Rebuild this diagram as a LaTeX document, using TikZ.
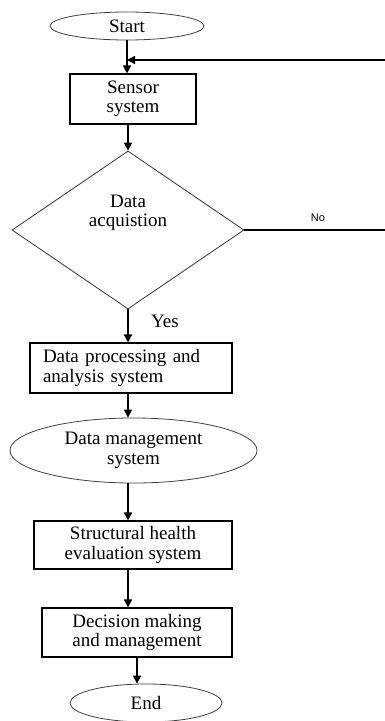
\documentclass[tikz,border=0pt]{standalone}
\usepackage{fontspec}
\setmainfont{Liberation Serif}
\newfontfamily\labelsans{Liberation Sans}
\usetikzlibrary{shapes.geometric,arrows.meta}

\begin{document}
\begin{tikzpicture}[x=1pt,y=-1pt,
    txt/.style={font=\fontsize{19}{19.5}\selectfont,align=center},
    box/.style={txt,draw,line width=1.1pt,inner sep=0pt},
    oval/.style={txt,ellipse,draw=black!75,line width=0.8pt,inner sep=0pt},
    arr/.style={line width=1.3pt,-{Triangle[length=8pt,width=8pt]}}]
  \useasboundingbox (0,0) rectangle (385,721);
  \clip (0,0) rectangle (385,721);
  \node[oval,minimum width=154,minimum height=28] (start) at (127,26) {Start};
  \node[box,minimum width=126,minimum height=50] (sensor) at (133,99) {Sensor\\system};
  \node[diamond,draw=black!80,line width=0.8pt,minimum width=232,minimum height=158,inner sep=0pt] (dec) at (128,230) {};
  \node[txt] (declbl) at (128,213) {Data\\acquistion};
  \node[box,align=left,text width=176,inner xsep=13,minimum height=50] (proc) at (131,368) {Data processing and\\analysis system};
  \node[oval,minimum width=247,minimum height=65] (mgmt) at (133.5,450.5) {Data management\\system};
  \node[box,minimum width=198,minimum height=48] (eval) at (133,545) {Structural health\\evaluation system};
  \node[box,minimum width=190,minimum height=49] (dm) at (137,632.5) {Decision making\\and management};
  \node[oval,minimum width=152,minimum height=38] (end) at (146,703) {End};
  \node[font=\labelsans\fontsize{11}{13}\selectfont] (no) at (318,218) {No};
  \node[txt] (yes) at (165,321) {Yes};
  \coordinate (fbtop) at (390,60);

  \draw[arr] (start) -- (start |- sensor.north);
  \draw[arr] (dec.north |- sensor.south) -- (dec.north);
  \draw[arr] (dec.south) -- (dec.south |- proc.north);
  \draw[arr] (dec.south |- proc.south) -- (dec.south |- mgmt.north);
  \draw[arr] (dec.north |- mgmt.south) -- (dec.north |- eval.north);
  \draw[arr] (dec.north |- eval.south) -- (dec.north |- dm.north);
  \draw[arr] (dm.south) -- (dm.south |- end.north);
  \draw[arr] (dec.east) -- (dec.east -| fbtop) -- (fbtop) -- (fbtop -| start.south);
\end{tikzpicture}
\end{document}
